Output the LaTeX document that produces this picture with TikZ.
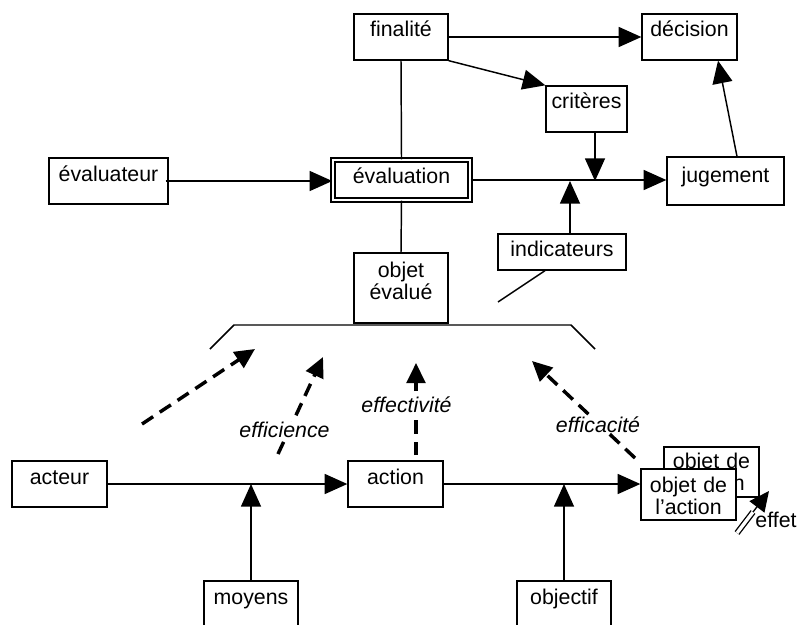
\documentclass[tikz,border=0pt]{standalone}
\usepackage{fontspec}
\setmainfont{Liberation Sans}
\usetikzlibrary{arrows.meta}
\begin{document}
\begin{tikzpicture}[x=0.75pt,y=-0.75pt,
    font=\fontsize{16pt}{16.5pt}\selectfont,
    boite/.style={draw,fill=white,line width=1pt,inner xsep=0pt,inner ysep=0pt,
      anchor=base,text width=#1,align=center,text height=17.25pt,text depth=17.25pt},
    fleche/.style={line width=1.1pt,-{Triangle[length=17pt,width=15pt]}},
    tirets/.style={line width=2.6pt,dash pattern=on 10pt off 6pt,-{Triangle[length=15pt,width=14pt]}},
    trait/.style={line width=1.1pt},
    etiquette/.style={font=\fontsize{16pt}{16.5pt}\selectfont\itshape,fill=white,inner sep=0pt,anchor=base}]
  \useasboundingbox (0,0) rectangle (798,624);
  \node[boite=70.5pt] (finalite) at (401,37) {finalité};
  \node[boite=71.25pt] (decision) at (689.5,37) {décision};
  \node[boite=60.75pt] (criteres) at (586.5,109) {critères};
  \node[boite=89.25pt] (evaluateur) at (108.5,181) {évaluateur};
  \node[boite=102.75pt,line width=1.1pt,double,double distance=2pt,text depth=12.75pt] (evaluation) at (401.5,183) {évaluation};
  \node[boite=87.75pt,text height=18.75pt] (jugement) at (725.5,182) {jugement};
  \node[boite=96pt,text height=16.5pt,text depth=10.5pt] (indicateurs) at (562,256) {indicateurs};
  \node[boite=70.5pt,text height=18pt,text depth=34.5pt] (objetevalue) at (401,277) {objet\\évalué};
  \node[boite=71.25pt] (acteur) at (59.5,484) {acteur};
  \node[boite=71.25pt] (action) at (395.5,484) {action};
  \node[boite=70.5pt] (moyens) at (251,604) {moyens};
  \node[boite=70.5pt] (objectif) at (564,604) {objectif};
  \node[boite=71.25pt,text height=15.75pt,text depth=21.75pt] (objetactionb) at (711.5,468) {objet de\\l’action};
  \node[boite=71.25pt,text height=17.25pt,text depth=21pt] (objetaction) at (688.5,492) {objet de\\l’action};
  \coordinate (jonctionc) at (595,181);
  \coordinate (jonctioni) at (570,181);
  \coordinate (finindic) at (498,302);
  \coordinate (ag) at (210,349);
  \coordinate (hg) at (234,325);
  \coordinate (hd) at (571,325);
  \coordinate (ad) at (595,349);
  \coordinate (d1a) at (142,424);
  \coordinate (d1b) at (255,349);
  \coordinate (d2a) at (278,454);
  \coordinate (d2b) at (323,357);
  \coordinate (d3a) at (416,455);
  \coordinate (d3b) at (416,363);
  \coordinate (d4a) at (635,458);
  \coordinate (d4b) at (532,361);
  \coordinate (effa) at (737,533);
  \coordinate (effm) at (753,512);
  \coordinate (effb) at (769,491);
  \draw[fleche] (finalite.base east) -- (decision.base west);
  \draw[fleche] (finalite.south east) -- (criteres.north west);
  \draw[trait] (finalite.south) -- (evaluation.north);
  \draw[trait] (evaluation.south) -- (objetevalue.north);
  \draw[fleche] ([xshift=-2.25pt]evaluateur.east) -- (evaluateur.east -| evaluation.west);
  \draw[fleche] (evaluation.east) -- (evaluation.east -| jugement.west);
  \draw[fleche] (criteres.south -| jonctionc) -- (jonctionc);
  \draw[fleche] (indicateurs.north -| jonctioni) -- (jonctioni);
  \draw[fleche] ([xshift=8.6pt]jugement.north) -- ([xshift=21.4pt]decision.south);
  \draw[trait] ([xshift=-12.75pt]indicateurs.south) -- (finindic);
  \draw[trait] (ag) -- (hg) -- (hd) -- (ad);
  \draw[fleche] (acteur.east) -- (acteur.east -| action.west);
  \draw[fleche] (moyens.north) -- (moyens.north |- acteur.east);
  \draw[fleche] (action.east) -- (action.east -| objetaction.west);
  \draw[fleche] (objectif.north) -- (objectif.north |- action.east);
  \draw[tirets] (d1a) -- (d1b);
  \draw[tirets] (d2a) -- (d2b);
  \draw[tirets] (d3a) -- (d3b);
  \draw[tirets] (d4a) -- (d4b);
  \node[etiquette] (efficience) at (284.5,437) {efficience};
  \node[etiquette] (effectivite) at (406.5,412) {effectivité};
  \node[etiquette] (efficacite) at (598,432) {efficacité};
  \draw[line width=1pt,double,double distance=2.5pt] (effa) -- (effm);
  \draw[line width=1pt,-{Triangle[length=15pt,width=14pt]}] (effm) -- (effb);
  \node[anchor=base,inner sep=0pt] (effet) at (776,527) {effet};
\end{tikzpicture}
\end{document}
